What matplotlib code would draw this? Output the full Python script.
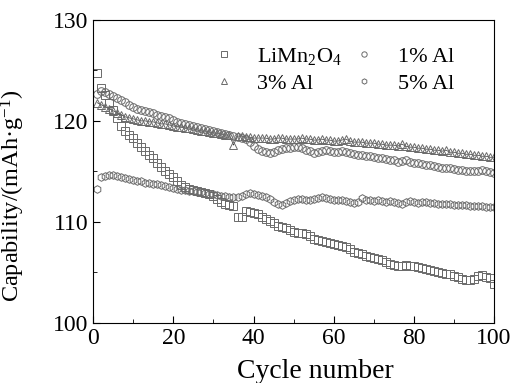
import numpy as np
import matplotlib
matplotlib.use("Agg")
import matplotlib.pyplot as plt

plt.rcParams['font.family'] = ['Liberation Serif', 'DejaVu Serif']
plt.rcParams['mathtext.fontset'] = 'stix'

cycles = np.arange(1, 101)

limn2o4 = [124.7, 123.3, 122.6, 121.8, 121.1, 120.3, 119.5, 119.0, 118.6, 118.3,
           117.8, 117.4, 117.0, 116.6, 116.3, 115.8, 115.4, 115.0, 114.7, 114.4,
           114.0, 113.7, 113.5, 113.3, 113.2, 113.1, 113.0, 112.9, 112.8, 112.6,
           112.3, 112.0, 111.8, 111.7, 111.6, 110.5, 110.5, 111.1, 111.0, 110.9,
           110.8, 110.5, 110.3, 110.1, 109.9, 109.6, 109.5, 109.4, 109.2, 109.0,
           108.9, 108.9, 108.8, 108.6, 108.3, 108.2, 108.1, 108.0, 107.9, 107.8,
           107.7, 107.6, 107.5, 107.3, 107.0, 106.9, 106.8, 106.6, 106.5, 106.4,
           106.3, 106.2, 106.0, 105.8, 105.7, 105.6, 105.6, 105.7, 105.6, 105.6,
           105.5, 105.4, 105.3, 105.2, 105.1, 105.0, 104.9, 104.8, 104.8, 104.6,
           104.5, 104.3, 104.2, 104.2, 104.3, 104.6, 104.7, 104.5, 104.4, 103.8]

al1 = [122.7, 123.0, 122.9, 122.7, 122.5, 122.3, 122.1, 121.9, 121.6, 121.4,
       121.2, 121.1, 121.0, 120.9, 120.8, 120.6, 120.5, 120.4, 120.3, 120.1,
       119.9, 119.8, 119.7, 119.6, 119.5, 119.4, 119.3, 119.2, 119.1, 119.0,
       118.9, 118.8, 118.7, 118.6, 118.5, 118.4, 118.3, 118.2, 117.9, 117.5,
       117.2, 117.0, 116.9, 116.8, 116.9, 117.1, 117.2, 117.3, 117.3, 117.4,
       117.4, 117.3, 117.1, 117.0, 116.8, 116.9, 117.0, 117.1, 117.0, 116.9,
       116.9, 117.0, 116.9, 116.8, 116.7, 116.6, 116.6, 116.5, 116.5, 116.4,
       116.3, 116.3, 116.2, 116.1, 116.1, 115.9, 116.0, 116.1, 115.9, 115.8,
       115.8, 115.7, 115.6, 115.6, 115.5, 115.4, 115.3, 115.3, 115.3, 115.2,
       115.1, 115.1, 115.0, 115.0, 115.0, 115.0, 115.1, 115.0, 114.9, 114.8]

al3 = [121.8, 121.6, 121.4, 121.2, 121.0, 120.8, 120.6, 120.4, 120.3, 120.2,
       120.1, 120.0, 120.0, 119.9, 119.9, 119.8, 119.7, 119.7, 119.6, 119.5,
       119.4, 119.4, 119.3, 119.3, 119.2, 119.1, 119.0, 119.0, 118.9, 118.8,
       118.8, 118.7, 118.6, 118.6, 117.6, 118.5, 118.5, 118.4, 118.4, 118.3,
       118.3, 118.3, 118.3, 118.2, 118.2, 118.3, 118.3, 118.2, 118.2, 118.2,
       118.2, 118.3, 118.2, 118.2, 118.1, 118.1, 118.2, 118.1, 118.1, 118.0,
       118.0, 118.1, 118.2, 118.0, 117.9, 117.9, 117.9, 117.8, 117.8, 117.8,
       117.7, 117.7, 117.6, 117.6, 117.6, 117.5, 117.7, 117.5, 117.4, 117.4,
       117.3, 117.3, 117.2, 117.2, 117.1, 117.1, 117.0, 117.1, 116.9, 116.9,
       116.8, 116.8, 116.7, 116.7, 116.6, 116.6, 116.5, 116.5, 116.4, 116.4]

al5 = [113.3, 114.4, 114.5, 114.6, 114.6, 114.5, 114.4, 114.3, 114.2, 114.1,
       114.0, 114.0, 113.9, 113.9, 113.8, 113.8, 113.7, 113.6, 113.5, 113.4,
       113.3, 113.2, 113.2, 113.1, 113.1, 113.0, 113.0, 112.9, 112.8, 112.8,
       112.7, 112.6, 112.6, 112.5, 112.5, 112.5, 112.6, 112.8, 112.9, 112.8,
       112.7, 112.6, 112.5, 112.3, 112.0, 111.8, 111.7, 111.9, 112.1, 112.2,
       112.3, 112.3, 112.2, 112.2, 112.3, 112.4, 112.5, 112.4, 112.3, 112.2,
       112.2, 112.2, 112.1, 112.0, 111.9, 112.0, 112.4, 112.2, 112.2, 112.1,
       112.2, 112.1, 112.0, 112.1, 112.0, 111.9, 111.8, 112.0, 112.1, 112.0,
       111.9, 112.0, 112.0, 111.9, 111.9, 111.8, 111.8, 111.8, 111.8, 111.7,
       111.7, 111.7, 111.7, 111.6, 111.6, 111.6, 111.6, 111.5, 111.5, 111.5]

fig = plt.figure(figsize=(5.12, 3.83), dpi=100)
ax = fig.add_axes([0.182, 0.157, 0.783, 0.791])

kw = dict(ls='none', mfc='none', mec='#6a6a6a', mew=0.7, ms=5.5)
h_li, = ax.plot(cycles, limn2o4, marker='s', label='LiMn$\\mathregular{_2}$O$\\mathregular{_4}$', **kw)
h_1, = ax.plot(cycles, al1, marker='o', label='1% Al', **kw)
ax.plot(cycles, al3, color='#333333', lw=0.5, zorder=1)
h_3, = ax.plot(cycles, al3, marker='^', label='3% Al', **kw)
h_5, = ax.plot(cycles, al5, marker='h', label='5% Al', **kw)

ax.set_xlim(0, 100)
ax.set_ylim(100, 130)
ax.set_xticks(np.arange(0, 101, 20))
ax.set_xticks(np.arange(10, 100, 20), minor=True)
ax.set_yticks(np.arange(100, 131, 10))
ax.set_yticks(np.arange(105, 130, 10), minor=True)
ax.tick_params(which='both', direction='in', labelsize=17)
ax.tick_params(which='major', length=5)
ax.tick_params(which='minor', length=3)

ax.set_xlabel('Cycle number', fontsize=20)
ax.set_ylabel('Capability/(mAh·g$\\mathregular{^{-1}}$)', fontsize=17.5)
ax.xaxis.set_label_coords(0.555, -0.12)
ax.yaxis.set_label_coords(-0.165, 0.42)

# order so rows read: LiMn2O4, 1% Al / 3% Al, 5% Al
ax.legend([h_li, h_3, h_1, h_5], [h.get_label() for h in (h_li, h_3, h_1, h_5)],
          ncol=2, frameon=False, fontsize=16, markerscale=0.7,
          loc='upper right', bbox_to_anchor=(0.95, 0.98),
          handlelength=1.2, handletextpad=0.9, columnspacing=0.4, labelspacing=0.3)

fig.savefig('out.png', dpi=100)
